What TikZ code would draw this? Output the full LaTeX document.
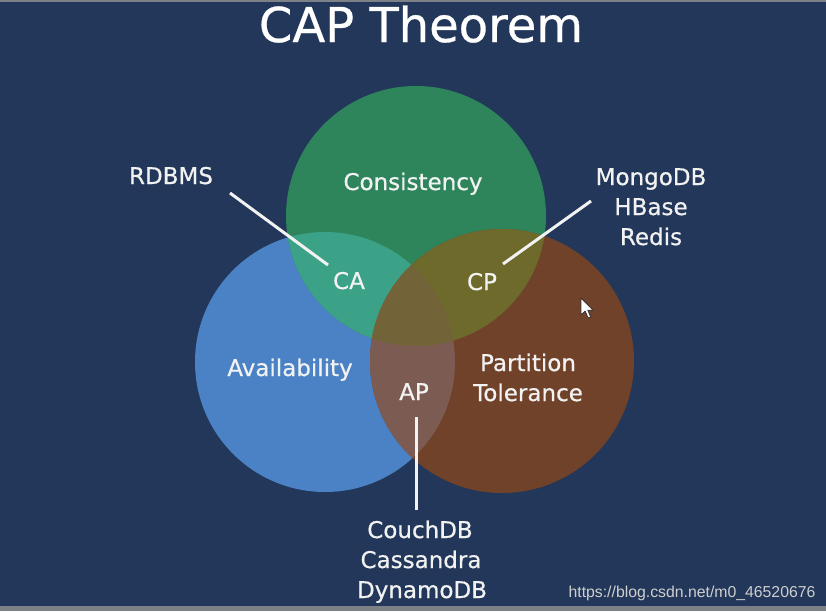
\documentclass[tikz,border=0pt]{standalone}
\usepackage{fontspec}
\setmainfont{DejaVu Sans}
\newfontfamily\lblfont{DejaVu Sans}[FakeBold=0.6]
\newfontfamily\urlfont{Liberation Sans}
\definecolor{bgc}{HTML}{223759}
\definecolor{cgreen}{HTML}{2E855B}
\definecolor{cblue}{HTML}{4A82C5}
\definecolor{cbrown}{HTML}{6F4229}
\definecolor{regca}{HTML}{3BA187}
\definecolor{regcp}{HTML}{6E6A2C}
\definecolor{regap}{HTML}{7C5C52}
\definecolor{regmid}{HTML}{726339}
\definecolor{txt}{HTML}{F2F2F2}
\definecolor{wm}{HTML}{CFCFCF}
\definecolor{edge}{HTML}{7C8188}
\tikzset{
  lbl/.style={anchor=base, inner sep=0pt, text=txt, font=\lblfont\fontsize{23}{23}\selectfont},
  ttl/.style={anchor=base, inner sep=0pt, text=white, font=\lblfont\fontsize{48}{48}\selectfont},
  lead/.style={draw=txt, line width=3pt},
  wmark/.style={anchor=base, inner sep=0pt, text=wm, font=\urlfont\fontsize{15.8}{15.8}\selectfont},
}
\begin{document}
\begin{tikzpicture}[x=1pt,y=-1pt]
\useasboundingbox (0,0) rectangle (826,611);
\fill[bgc] (0,0) rectangle (826,611);
\fill[edge] (0,0) rectangle (826,2);
\fill[edge] (0,606) rectangle (826,611);
% circle centres
\coordinate (G) at (416,216);
\coordinate (B) at (325,362);
\coordinate (P) at (502,361);
\def\rG{130}\def\rB{130}\def\rP{132}
\fill[cblue] (B) circle[radius=\rB];
\fill[cgreen] (G) circle[radius=\rG];
\fill[cbrown] (P) circle[radius=\rP];
\begin{scope}
  \clip (G) circle[radius=\rG];
  \fill[regca] (B) circle[radius=\rB];
  \fill[regcp] (P) circle[radius=\rP];
\end{scope}
\begin{scope}
  \clip (B) circle[radius=\rB];
  \fill[regap] (P) circle[radius=\rP];
\end{scope}
\begin{scope}
  \clip (G) circle[radius=\rG];
  \clip (B) circle[radius=\rB];
  \fill[regmid] (P) circle[radius=\rP];
\end{scope}
% title
\node[ttl] (title) at (421,42) {CAP Theorem};
% circle labels
\node[lbl] (cons) at (413,190) {Consistency};
\node[lbl] (avail) at (290,376) {Availability};
\node[lbl] (part) at (528,371) {Partition};
\node[lbl] (tol) at (528,401) {Tolerance};
\node[lbl] (ca) at (349,289) {CA};
\node[lbl] (cp) at (482,290) {CP};
\node[lbl] (ap) at (414,400) {AP};
% system labels
\node[lbl] (rdbms) at (171,184) {RDBMS};
\node[lbl] (mongo) at (651,185) {MongoDB};
\node[lbl] (hbase) at (651,215) {HBase};
\node[lbl] (redis) at (651,245) {Redis};
\node[lbl] (couch) at (420,538) {CouchDB};
\node[lbl] (cass) at (421,568) {Cassandra};
\node[lbl] (dynamo) at (422,598) {DynamoDB};
% leaders
\coordinate (l1a) at (230,193); \coordinate (l1b) at (328,265);
\coordinate (l2a) at (591,201); \coordinate (l2b) at (503,264);
\coordinate (l3a) at (416,417); \coordinate (l3b) at (416,510);
\draw[lead] (l1a) -- (l1b);
\draw[lead] (l2a) -- (l2b);
\draw[lead] (l3a) -- (l3b);
% mouse cursor
\begin{scope}[shift={(581,298)}, scale=1.05]
  \filldraw[fill=white, draw=black!80, line width=0.8pt, line join=round]
    (0,0) -- (0,16) -- (4,12.5) -- (6.8,19) -- (9.2,18) -- (6.5,11.6) -- (11.5,11.6) -- cycle;
\end{scope}
% watermark
\node[wmark] (url) at (692,597) {https://blog.csdn.net/m0\_46520676};
\end{tikzpicture}
\end{document}
